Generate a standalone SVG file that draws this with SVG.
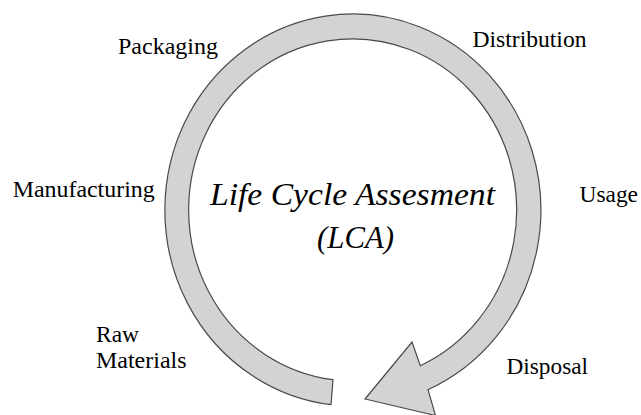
<svg xmlns="http://www.w3.org/2000/svg" width="641" height="415" viewBox="0 0 641 415">
<style>
.lbl{font-size:23.7px;fill:#000}
.title{font-size:32px;font-style:italic;fill:#000}
.band{fill:#d3d3d3;stroke:#4a4a4a;stroke-width:1.2;stroke-linejoin:miter}
</style>
<rect width="641" height="415" fill="#fff"/>
<g id="connectors">
<path class="band" d="M 331,404.7 A 188 196 0 1 1 428,389.7 L 435.5,415.5 L 365,399 L 412,342 L 420.3,365.7 A 164 171 0 1 0 333,379.7 Z"/>
</g>
<g font-family="Liberation Serif, Tinos, Times New Roman, Times, DejaVu Serif, serif">
<g id="center"><text class="title" x="210" y="205" textLength="285" lengthAdjust="spacingAndGlyphs">Life Cycle Assesment</text><text class="title" x="317" y="248" textLength="77" lengthAdjust="spacingAndGlyphs">(LCA)</text></g>
<g id="packaging"><text class="lbl" x="118" y="54" textLength="100" lengthAdjust="spacingAndGlyphs">Packaging</text></g>
<g id="distribution"><text class="lbl" x="472.5" y="47" textLength="114" lengthAdjust="spacingAndGlyphs">Distribution</text></g>
<g id="usage"><text class="lbl" x="579.5" y="202" textLength="58.5" lengthAdjust="spacingAndGlyphs">Usage</text></g>
<g id="manufacturing"><text class="lbl" x="12.7" y="197" textLength="142" lengthAdjust="spacingAndGlyphs">Manufacturing</text></g>
<g id="raw-materials"><text class="lbl" x="96" y="342" textLength="43" lengthAdjust="spacingAndGlyphs">Raw</text><text class="lbl" x="96" y="367.5" textLength="90.5" lengthAdjust="spacingAndGlyphs">Materials</text></g>
<g id="disposal"><text class="lbl" x="506.5" y="373.5" textLength="81.5" lengthAdjust="spacingAndGlyphs">Disposal</text></g>
</g>
</svg>
